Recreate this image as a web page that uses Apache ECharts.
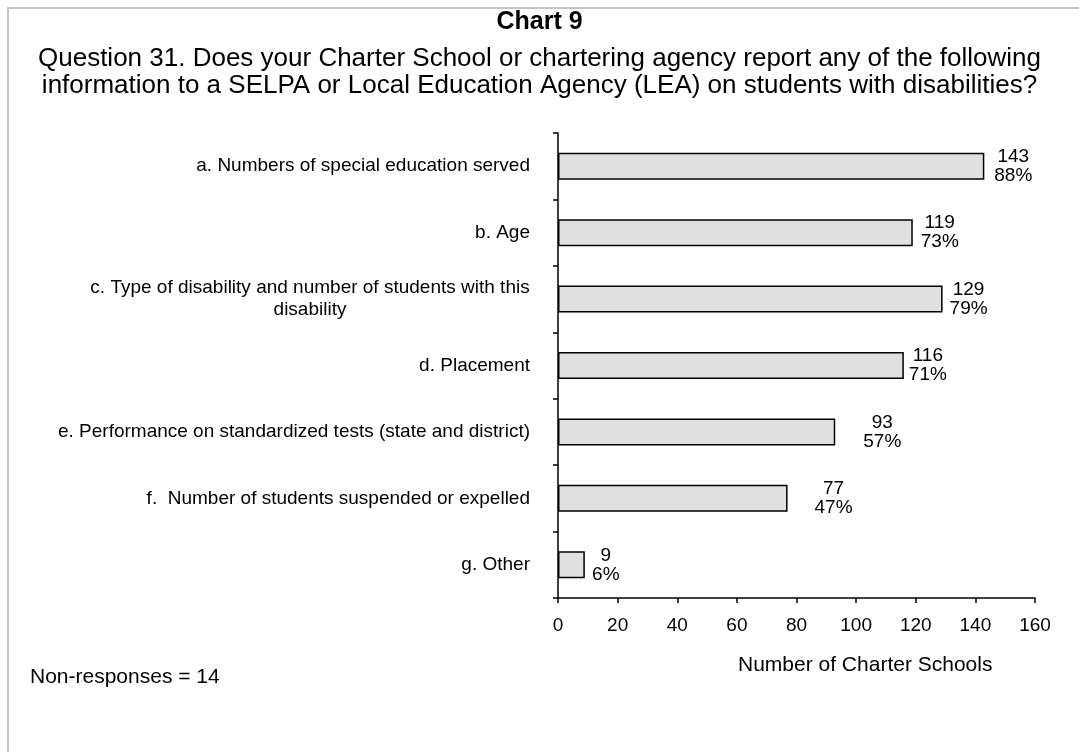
<!DOCTYPE html>
<html>
<head>
<meta charset="utf-8">
<script src="https://cdn.jsdelivr.net/npm/echarts@6/dist/echarts.min.js"></script>
<style>
  html, body { margin: 0; padding: 0; background: #fff; }
  #chart { width: 1079px; height: 752px; }
</style>
</head>
<body>
<div id="chart"></div>
<script>
// Survey responses: number of charter schools reporting each item
const categories = [
  'a. Numbers of special education served',
  'b. Age',
  'c. Type of disability and number of students with this\ndisability',
  'd. Placement',
  'e. Performance on standardized tests (state and district)',
  'f.  Number of students suspended or expelled',
  'g. Other'
];
const counts = [143, 119, 129, 116, 93, 77, 9];
const percents = [88, 73, 79, 71, 57, 47, 6];
const xTicks = [0, 20, 40, 60, 80, 100, 120, 140, 160];

// gap between bar end and its value label
const labelGaps = [9, 7, 6, 4, 27, 26, 1];

const FONT = '"Liberation Sans", Arial, sans-serif';

const chart = echarts.init(document.getElementById('chart'));

chart.setOption({
  backgroundColor: '#ffffff',
  animation: false,
  title: [
    {
      text: 'Chart 9',
      left: 'center',
      top: 5,
      textStyle: { fontFamily: FONT, fontSize: 25, fontWeight: 'bold', color: '#000' }
    },
    {
      text: 'Question 31. Does your Charter School or chartering agency report any of the following\ninformation to a SELPA or Local Education Agency (LEA) on students with disabilities?',
      left: 'center',
      top: 40,
      textStyle: { fontFamily: FONT, fontSize: 26, fontWeight: 'normal', color: '#000', lineHeight: 27, align: 'center' }
    }
  ],
  graphic: [
    {
      type: 'rect',
      shape: { x: 8, y: 8, width: 1100, height: 800 },
      style: { fill: 'none', stroke: '#c4c4c4', lineWidth: 2 },
      silent: true
    },
    {
      type: 'text',
      left: 30,
      top: 667,
      style: { text: 'Non-responses = 14', fontFamily: FONT, fontSize: 21, fill: '#000' }
    },
    {
      type: 'text',
      left: 738,
      top: 655,
      style: { text: 'Number of Charter Schools', fontFamily: FONT, fontSize: 21, fill: '#000' }
    }
  ],
  grid: { left: 558, right: 44, top: 133, bottom: 154, containLabel: false },
  xAxis: {
    type: 'value',
    min: xTicks[0],
    max: xTicks[xTicks.length - 1],
    interval: xTicks[1] - xTicks[0],
    splitLine: { show: false },
    axisLine: { show: true, lineStyle: { color: '#000', width: 1.5 } },
    axisTick: { show: true, length: 5, lineStyle: { color: '#000', width: 1.5 } },
    axisLabel: { margin: 18, fontFamily: FONT, fontSize: 19, color: '#000' }
  },
  yAxis: {
    type: 'category',
    inverse: true,
    data: categories,
    axisLine: { show: true, lineStyle: { color: '#000', width: 1.5 } },
    axisTick: { show: true, length: 5, alignWithLabel: false, lineStyle: { color: '#000', width: 1.5 } },
    axisLabel: {
      margin: 28,
      fontFamily: FONT,
      fontSize: 19,
      color: '#000',
      lineHeight: 22,
      formatter: function (v) {
        return v.indexOf('\n') >= 0 ? '{wrap|' + v + '}' : v;
      },
      rich: {
        wrap: { width: 440, align: 'center', fontFamily: FONT, fontSize: 19, lineHeight: 22, color: '#000' }
      }
    }
  },
  series: [{
    type: 'bar',
    barWidth: 27,
    data: counts.map(function (c, i) {
      return {
        value: c,
        label: { distance: labelGaps[i] }
      };
    }),
    itemStyle: { color: '#e0e0e0', borderColor: '#000', borderWidth: 1.5 },
    label: {
      show: true,
      position: 'right',
      formatter: function (p) {
        return '{v|' + counts[p.dataIndex] + '}\n{v|' + percents[p.dataIndex] + '%}';
      },
      rich: {
        v: { width: 40, align: 'center', fontFamily: FONT, fontSize: 19, lineHeight: 19, color: '#000' }
      }
    }
  }]
});
</script>
</body>
</html>
